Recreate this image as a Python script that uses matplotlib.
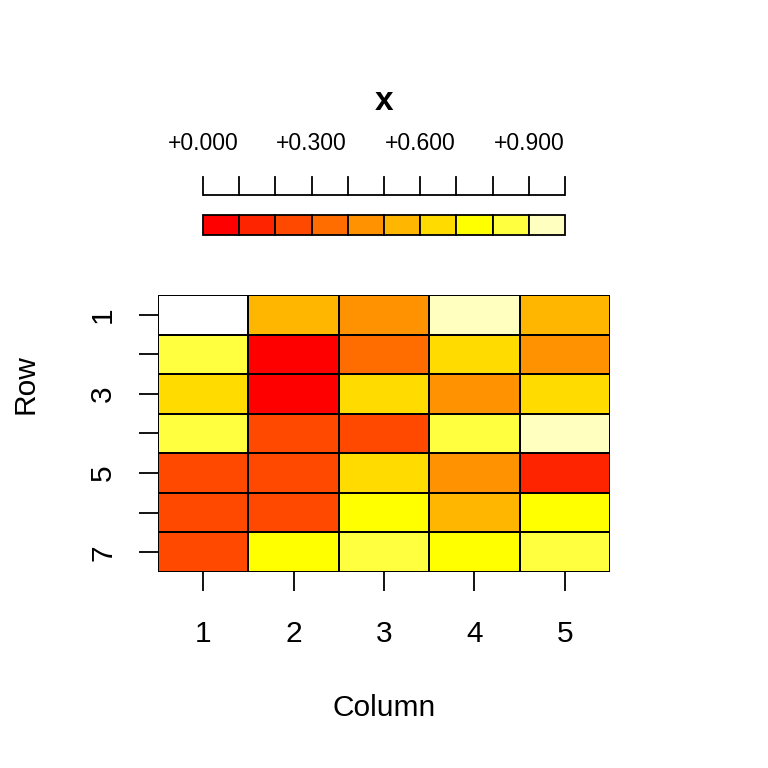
import numpy as np
import matplotlib
matplotlib.use("Agg")
import matplotlib.pyplot as plt
from matplotlib.colors import ListedColormap, BoundaryNorm
from matplotlib.patches import Rectangle

plt.rcParams['font.family'] = ['Liberation Sans', 'DejaVu Sans']

# Data (rows 1..7, columns 1..5); NaN drawn white
row_labels = ["1", "", "3", "", "5", "", "7"]
col_labels = ["1", "2", "3", "4", "5"]
row1 = [np.nan, 0.55, 0.45, 0.95, 0.55]
row2 = [0.85, 0.05, 0.35, 0.65, 0.45]
row3 = [0.65, 0.05, 0.65, 0.45, 0.65]
row4 = [0.85, 0.25, 0.25, 0.85, 0.95]
row5 = [0.25, 0.25, 0.65, 0.45, 0.15]
row6 = [0.25, 0.25, 0.75, 0.55, 0.75]
row7 = [0.25, 0.75, 0.85, 0.75, 0.85]
values = np.array([row1, row2, row3, row4, row5, row6, row7])

breaks = [0.0, 0.1, 0.2, 0.3, 0.4, 0.5, 0.6, 0.7, 0.8, 0.9, 1.0]
heat_colors = ["#FF0000", "#FF2400", "#FF4900", "#FF6D00", "#FF9200",
               "#FFB600", "#FFDB00", "#FFFF00", "#FFFF40", "#FFFFBF"]
legend_ticks = [0.0, 0.3, 0.6, 0.9]
legend_labels = ["+0.000", "+0.300", "+0.600", "+0.900"]

cmap = ListedColormap(heat_colors)
cmap.set_bad("white")
norm = BoundaryNorm(breaks, cmap.N)

W = H = 768
fig = plt.figure(figsize=(7.68, 7.68), dpi=100)

# main heatmap axes
ax = fig.add_axes([158 / W, 1 - 572 / H, (610 - 158) / W, (572 - 295) / H])
nr, nc = values.shape
xe = np.arange(nc + 1) + 0.5
ye = np.arange(nr + 1) + 0.5
ax.pcolormesh(xe, ye, np.ma.masked_invalid(values), cmap=cmap, norm=norm,
              edgecolors="black", linewidth=1.3)
ax.set_xlim(0.5, nc + 0.5)
ax.set_ylim(nr + 0.5, 0.5)
for s in ax.spines.values():
    s.set_visible(False)
ax.set_xticks(np.arange(1, nc + 1))
ax.set_xticklabels(col_labels)
ax.set_yticks(np.arange(1, nr + 1))
ax.set_yticklabels(row_labels, rotation=90, va="center")
ax.tick_params(axis="both", length=13.5, width=1.3, labelsize=21.5, color="black")
ax.tick_params(axis="x", pad=21)
ax.tick_params(axis="y", pad=16)

fig.text(384 / W, 1 - 708 / H, "Column", ha="center", va="center", fontsize=21.5)
fig.text(25 / W, 1 - 384 / H, "Row", ha="center", va="center", fontsize=21.5,
         rotation=90)

# legend axes: x in value units, y in pixel units (inverted)
lax = fig.add_axes([203 / W, 1 - 240 / H, (565 - 203) / W, 110 / H])
lax.set_xlim(breaks[0], breaks[-1])
lax.set_ylim(240, 130)
lax.axis("off")
for i in range(len(heat_colors)):
    lax.add_patch(Rectangle((breaks[i], 215), breaks[i + 1] - breaks[i], 20,
                            facecolor=heat_colors[i], edgecolor="black",
                            linewidth=1.3, clip_on=False))
lax.plot([breaks[0], breaks[-1]], [195, 195], color="black", lw=1.3,
         clip_on=False, solid_capstyle="butt")
for b in breaks:
    lax.plot([b, b], [195, 177], color="black", lw=1.3, clip_on=False)
for t, lab in zip(legend_ticks, legend_labels):
    lax.text(t, 144, lab, ha="center", va="center", fontsize=16.5)

fig.text(384 / W, 1 - 101 / H, "x", ha="center", va="center",
         fontsize=24, fontweight="bold")

fig.savefig("out.png", dpi=100)
